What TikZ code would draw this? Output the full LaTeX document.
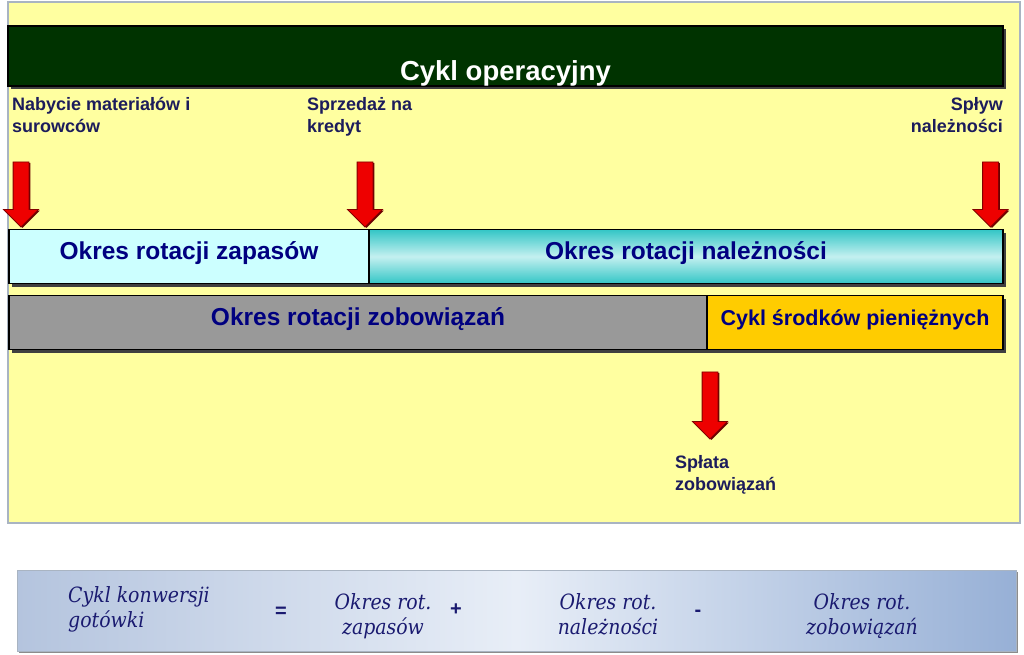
\documentclass[tikz,border=0pt]{standalone}
\usepackage{fontspec}
\setmainfont{Liberation Sans}
\newfontfamily\formfont{DejaVu Serif Condensed}
\usepackage{tikz}
\usetikzlibrary{positioning}
\usetikzlibrary{shapes.arrows,shadows}
\definecolor{panelyellow}{HTML}{FFFFA0}
\definecolor{panelrim}{HTML}{A9B4C2}
\definecolor{opgreen}{HTML}{003300}
\definecolor{palecyan}{HTML}{CCFFFF}
\definecolor{tealA}{HTML}{33C6C6}
\definecolor{tealB}{HTML}{C4F0F0}
\definecolor{bargray}{HTML}{999999}
\definecolor{cashgold}{HTML}{FFCC00}
\definecolor{barnavy}{HTML}{000080}
\definecolor{labelnavy}{HTML}{1C1C5C}
\definecolor{formnavy}{HTML}{1A1A70}
\definecolor{arrowred}{HTML}{EE0000}
\definecolor{formL}{HTML}{B4C4DE}
\definecolor{formM}{HTML}{E8EEF7}
\definecolor{formR}{HTML}{97B0D6}
\tikzset{bar node/.style={draw=black,line width=1.2pt,outer sep=0pt,inner sep=0pt,minimum height=54pt,text=barnavy,font=\bfseries\fontsize{24.5}{28}\selectfont,text height=12pt,text depth=7pt,general shadow={fill=black!75,shadow xshift=3pt,shadow yshift=-3pt}},
  event label/.style={font=\bfseries\fontsize{18}{22}\selectfont,text=labelnavy,inner sep=0pt},
  down arrow/.style={single arrow,rotate=-90,fill=arrowred,draw=arrowred!55!black,line width=.8pt,minimum height=65pt,inner xsep=0pt,inner ysep=7.5pt,single arrow head extend=9.5pt,general shadow={fill=arrowred!45!black,shadow xshift=1.5pt,shadow yshift=-1pt}},
  formula text/.style={font=\formfont\itshape\fontsize{21}{25}\selectfont,text=formnavy,align=center,inner sep=0pt},
  op sign/.style={font=\bfseries\fontsize{20}{24}\selectfont,text=formnavy,inner sep=0pt}}
\begin{document}
\begin{tikzpicture}[x=1pt,y=-1pt]
    \useasboundingbox (0,0) rectangle (1024,654);
    % yellow panel
    \draw[fill=panelyellow,draw=panelrim,line width=1.5pt] (8,2) rectangle (1020,523);

    \node[bar node,fill=opgreen,minimum width=995pt,minimum height=60pt,text=white,font=\bfseries\fontsize{27.5}{32}\selectfont,text height=48pt,text depth=0pt] (cykl) at (505.5,56) {Cykl operacyjny};

    \node[event label,anchor=north west,align=left] (nabycie) at (12,97) {Nabycie materiałów i\\surowców};
    \node[event label,anchor=north west,align=left] (sprzedaz) at (307,97) {Sprzedaż na\\kredyt};
    \node[event label,anchor=north east,align=right] (splyw) at (1003,97) {Spływ\\należności};

    \node[down arrow] (arrNabycie) at (21,190.5) {};
    \node[down arrow] (arrSprzedaz) at (365,190.5) {};
    \node[down arrow] (arrSplyw) at (990.5,190.5) {};

    \node[bar node,fill=palecyan,minimum width=360pt] (zapasy) at (189,256.5) {Okres rotacji zapasów};
    \node[bar node,top color=tealA,bottom color=tealA,middle color=tealB,minimum width=634pt,right=0pt of zapasy] (naleznosci) {Okres rotacji należności};

    \node[bar node,fill=bargray,minimum width=698pt] (zobow) at (358,322.5) {Okres rotacji zobowiązań};
    \node[bar node,fill=cashgold,minimum width=296pt,right=0pt of zobow,font=\bfseries\fontsize{21.5}{26}\selectfont] (srodki) {Cykl środków pieniężnych};

    \node[down arrow,minimum height=67pt] (arrSplata) at (710,401.5) {};
    \node[event label,anchor=north west,align=left] (splata) at (675,455) {Spłata\\zobowiązań};

    % formula
    \node[draw=panelrim,line width=1pt,left color=formL,right color=formR,middle color=formM,minimum width=999pt,minimum height=81pt,general shadow={fill=black!45,shadow xshift=2pt,shadow yshift=-2pt}] (formula) at (516.5,610.5) {};
    \node[formula text,align=left,anchor=north west] (konwersja) at (68,586) {Cykl konwersji\\gotówki};
    \node[op sign] (rowne) at (281,612) {=};
    \node[formula text,anchor=north] (fZapasy) at (383,593) {Okres rot.\\zapasów};
    \node[op sign] (plus) at (456,610) {+};
    \node[formula text,anchor=north] (fNaleznosci) at (608,593) {Okres rot.\\należności};
    \node[op sign] (minus) at (698,613) {-};
    \node[formula text,anchor=north] (fZobow) at (862,593) {Okres rot.\\zobowiązań};
\end{tikzpicture}
\end{document}
